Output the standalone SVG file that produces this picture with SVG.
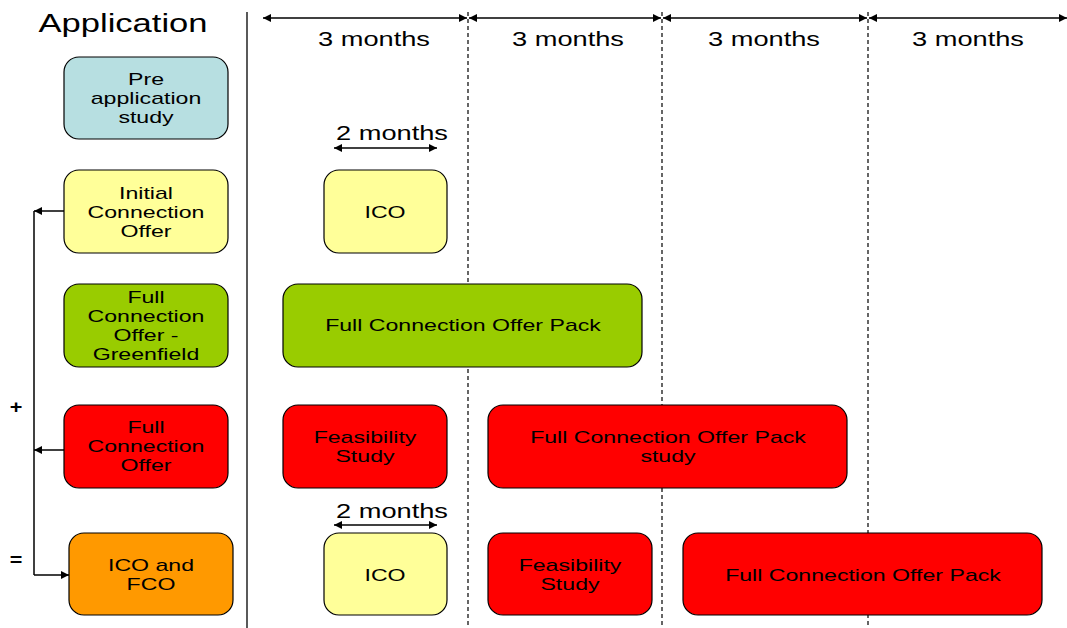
<svg xmlns="http://www.w3.org/2000/svg" width="1067" height="628" viewBox="0 0 1067 628">
<style>
.box{stroke:#000;stroke-width:1.2}
.t{font-family:"Liberation Sans",Arial,sans-serif;font-size:17px;text-anchor:middle;fill:#000}
.h{font-family:"Liberation Sans",Arial,sans-serif;font-size:20px;text-anchor:middle;fill:#000}
.ln{stroke:#000;stroke-width:1.5;fill:none}
.dash{stroke:#000;stroke-width:1.2;stroke-dasharray:4,3;fill:none}
</style>
<defs>
<marker id="ah" viewBox="0 0 10 10" refX="10" refY="5" markerWidth="10" markerHeight="8" markerUnits="userSpaceOnUse" orient="auto-start-reverse">
<path d="M0,0 L10,5 L0,10 z" fill="#000"/>
</marker>
</defs>
<rect width="1067" height="628" fill="#fff"/>
<text transform="translate(123,32) scale(1.33,1)" style="font-family:'Liberation Sans',Arial,sans-serif;font-size:26px;text-anchor:middle">Application</text>
<g id="grid">
<line class="ln" x1="247" y1="12" x2="247" y2="628" style="stroke-width:1.3"/>
<line class="dash" x1="468" y1="12" x2="468" y2="628"/>
<line class="dash" x1="662" y1="12" x2="662" y2="628"/>
<line class="dash" x1="868" y1="12" x2="868" y2="628"/>
</g>
<g id="connectors">
<line class="ln" x1="263" y1="18" x2="467" y2="18" marker-start="url(#ah)" marker-end="url(#ah)"/>
<line class="ln" x1="469" y1="18" x2="661" y2="18" marker-start="url(#ah)" marker-end="url(#ah)"/>
<line class="ln" x1="663" y1="18" x2="867" y2="18" marker-start="url(#ah)" marker-end="url(#ah)"/>
<line class="ln" x1="869" y1="18" x2="1067" y2="18" marker-start="url(#ah)" marker-end="url(#ah)"/>
<line class="ln" x1="334" y1="148" x2="437" y2="148" marker-start="url(#ah)" marker-end="url(#ah)"/>
<line class="ln" x1="334" y1="525" x2="437" y2="525" marker-start="url(#ah)" marker-end="url(#ah)"/>
<line class="ln" x1="34" y1="211" x2="34" y2="575"/>
<line class="ln" x1="64" y1="211" x2="34" y2="211" marker-end="url(#ah)"/>
<line class="ln" x1="64" y1="450" x2="34" y2="450" marker-end="url(#ah)"/>
<line class="ln" x1="34" y1="575" x2="69" y2="575" marker-end="url(#ah)"/>
</g>
<g id="labels">
<text class="h" transform="translate(374,46) scale(1.36,1)">3 months</text>
<text class="h" transform="translate(568,46) scale(1.36,1)">3 months</text>
<text class="h" transform="translate(764,46) scale(1.36,1)">3 months</text>
<text class="h" transform="translate(968,46) scale(1.36,1)">3 months</text>
<text class="h" transform="translate(392,140) scale(1.36,1)">2 months</text>
<text class="h" transform="translate(392,518) scale(1.36,1)">2 months</text>
<text transform="translate(16,413) scale(1.2,1)" style="font-family:'Liberation Sans',Arial,sans-serif;font-size:18px;text-anchor:middle;font-weight:bold">+</text>
<text transform="translate(16,566) scale(1.2,1)" style="font-family:'Liberation Sans',Arial,sans-serif;font-size:18px;text-anchor:middle;font-weight:bold">=</text>
</g>
<g id="pre-application">
<rect class="box" x="64" y="57" width="164" height="82" rx="15" fill="#b7dfe1"/>
<text class="t" transform="translate(146,85) scale(1.36,1)">Pre</text>
<text class="t" transform="translate(146,104) scale(1.36,1)">application</text>
<text class="t" transform="translate(146,123) scale(1.36,1)">study</text>
</g>
<g id="initial-connection-offer">
<rect class="box" x="64" y="170" width="164" height="83" rx="15" fill="#ffff99"/>
<text class="t" transform="translate(146,199) scale(1.36,1)">Initial</text>
<text class="t" transform="translate(146,218) scale(1.36,1)">Connection</text>
<text class="t" transform="translate(146,237) scale(1.36,1)">Offer</text>
</g>
<g id="fco-greenfield">
<rect class="box" x="64" y="284" width="164" height="83" rx="15" fill="#99cc00"/>
<text class="t" transform="translate(146,303) scale(1.36,1)">Full</text>
<text class="t" transform="translate(146,322) scale(1.36,1)">Connection</text>
<text class="t" transform="translate(146,341) scale(1.36,1)">Offer -</text>
<text class="t" transform="translate(146,360) scale(1.36,1)">Greenfield</text>
</g>
<g id="full-connection-offer">
<rect class="box" x="64" y="405" width="164" height="83" rx="15" fill="#ff0000"/>
<text class="t" transform="translate(146,433) scale(1.36,1)">Full</text>
<text class="t" transform="translate(146,452) scale(1.36,1)">Connection</text>
<text class="t" transform="translate(146,471) scale(1.36,1)">Offer</text>
</g>
<g id="ico-and-fco">
<rect class="box" x="69" y="533" width="164" height="82" rx="15" fill="#ff9900"/>
<text class="t" transform="translate(151,571) scale(1.36,1)">ICO and</text>
<text class="t" transform="translate(151,590) scale(1.36,1)">FCO</text>
</g>
<g id="ico-1">
<rect class="box" x="324" y="170" width="123" height="83" rx="15" fill="#ffff99"/>
<text class="t" transform="translate(385,218) scale(1.36,1)">ICO</text>
</g>
<g id="fco-pack-green">
<rect class="box" x="283" y="284" width="359" height="83" rx="15" fill="#99cc00"/>
<text class="t" transform="translate(463,331) scale(1.36,1)">Full Connection Offer Pack</text>
</g>
<g id="feasibility-1">
<rect class="box" x="283" y="405" width="164" height="83" rx="15" fill="#ff0000"/>
<text class="t" transform="translate(365,443) scale(1.36,1)">Feasibility</text>
<text class="t" transform="translate(365,462) scale(1.36,1)">Study</text>
</g>
<g id="fco-pack-study">
<rect class="box" x="488" y="405" width="359" height="83" rx="15" fill="#ff0000"/>
<text class="t" transform="translate(668,443) scale(1.36,1)">Full Connection Offer Pack</text>
<text class="t" transform="translate(668,462) scale(1.36,1)">study</text>
</g>
<g id="ico-2">
<rect class="box" x="324" y="533" width="123" height="82" rx="15" fill="#ffff99"/>
<text class="t" transform="translate(385,581) scale(1.36,1)">ICO</text>
</g>
<g id="feasibility-2">
<rect class="box" x="488" y="533" width="164" height="82" rx="15" fill="#ff0000"/>
<text class="t" transform="translate(570,571) scale(1.36,1)">Feasibility</text>
<text class="t" transform="translate(570,590) scale(1.36,1)">Study</text>
</g>
<g id="fco-pack-2">
<rect class="box" x="683" y="533" width="359" height="82" rx="15" fill="#ff0000"/>
<text class="t" transform="translate(863,581) scale(1.36,1)">Full Connection Offer Pack</text>
</g>
</svg>
